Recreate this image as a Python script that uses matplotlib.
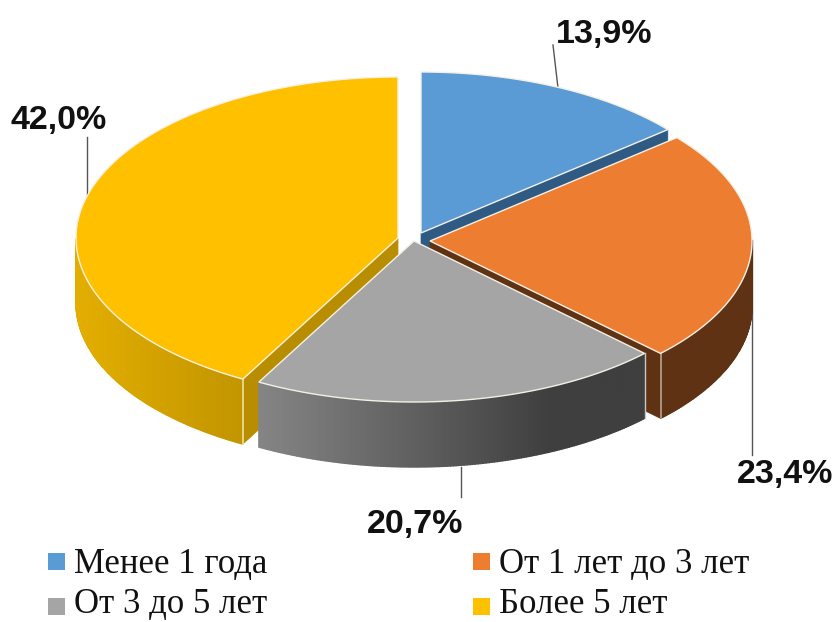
import matplotlib
matplotlib.use("Agg")
import matplotlib.pyplot as plt
from matplotlib.patches import Polygon, Rectangle
from matplotlib.colors import to_rgb
import numpy as np

# share of respondents by length of service
categories = ["Менее 1 года", "От 1 лет до 3 лет", "От 3 до 5 лет", "Более 5 лет"]
shares = [13.9, 23.4, 20.7, 42.0]
labels = ["13,9%", "23,4%", "20,7%", "42,0%"]

top_colors = ["#5B9BD5", "#ED7D31", "#A5A5A5", "#FFC000"]
cut_colors = ["#2E5A83", "#5F3213", "#404040", "#B88E00"]

# pixel layout of the exploded pie
centers = [(421, 233), (430, 241), (414, 241), (398, 238)]
rx, ry, depth = 322, 161, 65
edge = "#F4F0E4"


def pt(c, deg, dy=0):
    # angle runs clockwise from the top of the ellipse
    a = np.radians(deg)
    return c[0] + rx * np.sin(a), c[1] - ry * np.cos(a) + dy


def mix(c1, c2, t):
    c1, c2 = np.array(to_rgb(c1)), np.array(to_rgb(c2))
    return tuple(c1 + (c2 - c1) * t)


def wall_color(i, x):
    if i == 2:
        # grey rim goes dark quickly from left to right
        return mix("#858585", "#3F3F3F", np.clip((x - 258) / 290, 0, 1))
    if i == 3:
        return mix("#E3AE00", "#C29500", np.clip((x - 76) / 167, 0, 1))
    return cut_colors[i]


def draw_rim(ax, i, start, end, z):
    c = centers[i]
    degs = np.linspace(start, end, int((end - start) * 2) + 2)
    for d0, d1 in zip(degs[:-1], degs[1:]):
        p0, p1 = pt(c, d0), pt(c, d1)
        quad = [p0, p1, (p1[0], p1[1] + depth), (p0[0], p0[1] + depth)]
        col = wall_color(i, (p0[0] + p1[0]) / 2)
        ax.add_patch(Polygon(quad, closed=True, fc=col, ec=col, lw=1.0, zorder=z))


def draw_cut(ax, i, deg, z):
    c = centers[i]
    p = pt(c, deg)
    quad = [c, p, (p[0], p[1] + depth), (c[0], c[1] + depth)]
    ax.add_patch(Polygon(quad, closed=True, fc=cut_colors[i], ec=cut_colors[i], lw=0.5, zorder=z))


def draw_top(ax, i, start, end, z):
    c = centers[i]
    degs = np.linspace(start, end, 200)
    pts = [c] + [pt(c, d) for d in degs]
    ax.add_patch(Polygon(pts, closed=True, fc=top_colors[i], ec=edge, lw=1.0, zorder=z, joinstyle="miter"))


fig = plt.figure(figsize=(8.37, 6.22), dpi=100)
ax = fig.add_axes([0, 0, 1, 1])
ax.set_xlim(0, 837)
ax.set_ylim(622, 0)
ax.axis("off")

bounds = np.cumsum([0] + shares) / sum(shares) * 360

# blue first, grey last so the grey slice sits over its neighbours
draw_order = [0, 3, 1, 2]
for z, i in enumerate(draw_order):
    z = 2 + z
    start, end = bounds[i], bounds[i + 1]
    if i == 0:
        draw_cut(ax, 0, end, z)
    if i == 1:
        draw_rim(ax, 1, 90, end, z)
        draw_cut(ax, 1, end, z)
        p = pt(centers[1], end)
        ax.plot([p[0], p[0]], [p[1], p[1] + depth], color="#B9A691", lw=1.2, zorder=z)
    if i == 2:
        draw_rim(ax, 2, start, end, z)
        p = pt(centers[2], start)
        ax.plot([p[0]] * 2, [p[1], p[1] + depth], color="#C8C8C8", lw=1.0, zorder=z)
    if i == 3:
        draw_cut(ax, 3, start, z)
        draw_rim(ax, 3, start, 270, z)
        p = pt(centers[3], start)
        ax.plot([p[0]] * 2, [p[1], p[1] + depth], color="#F0DFA0", lw=1.2, zorder=z)
    draw_top(ax, i, start, end, z)

# leader lines and value labels
leaders = [((553, 45), (558, 88)), ((752, 240), (752, 455)), ((461, 467), (461, 497)), ((87, 137), (87, 200))]
label_pos = [(604, 34), (785, 475), (415, 525), (59, 120)]
for (a, b), pos, txt in zip(leaders, label_pos, labels):
    ax.plot([a[0], b[0]], [a[1], b[1]], color="#555555", lw=1.0, zorder=1)
    ax.text(pos[0], pos[1], txt, ha="center", va="center", fontsize=24.5,
            fontweight="bold", family="Liberation Sans", color="#111111", zorder=10)

# legend drawn by hand, two rows and two columns
legend_x = [48, 473]
legend_y = [553, 598]
text_y = [573, 613]
for n, name in enumerate(categories):
    x, y = legend_x[n % 2], legend_y[n // 2]
    ax.add_patch(Rectangle((x, y), 17, 17, fc=top_colors[n], ec="none", zorder=10))
    ax.text(x + 26, text_y[n // 2], name, ha="left", va="baseline", fontsize=25,
            family="Liberation Serif", color="#111111", zorder=10)

fig.savefig("out.png", dpi=100)
